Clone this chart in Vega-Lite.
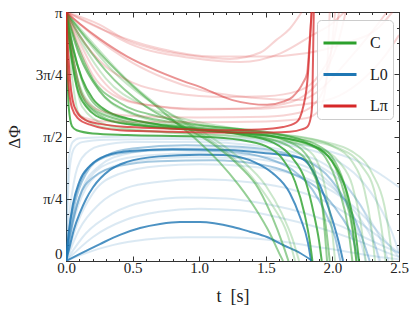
{
"$schema": "https://vega.github.io/schema/vega-lite/v6.json",
"width": 333, "height": 249,
"autosize": {"type": "none"},
"padding": {"left": 66, "top": 12, "right": 16, "bottom": 51},
"background": "white",
"datasets": {
"L0_faint": [
{"run":"B5","t":0,"dphi":0},{"run":"B5","t":0.01,"dphi":0.6},{"run":"B5","t":0.03,"dphi":1.2},{"run":"B5","t":0.06,"dphi":1.42},{"run":"B5","t":0.12,"dphi":1.5},{"run":"B5","t":0.3,"dphi":1.53},{"run":"B5","t":0.8,"dphi":1.54},{"run":"B5","t":1.3,"dphi":1.52},{"run":"B5","t":1.7,"dphi":1.45},{"run":"B5","t":2.0,"dphi":1.3},{"run":"B5","t":2.2,"dphi":1.05},{"run":"B5","t":2.35,"dphi":0.7},{"run":"B5","t":2.45,"dphi":0.35},{"run":"B5","t":2.5,"dphi":0.1},
{"run":"B6","t":0,"dphi":0},{"run":"B6","t":0.02,"dphi":0.5},{"run":"B6","t":0.06,"dphi":1.0},{"run":"B6","t":0.12,"dphi":1.3},{"run":"B6","t":0.25,"dphi":1.45},{"run":"B6","t":0.5,"dphi":1.5},{"run":"B6","t":1.0,"dphi":1.5},{"run":"B6","t":1.4,"dphi":1.46},{"run":"B6","t":1.75,"dphi":1.35},{"run":"B6","t":2.0,"dphi":1.15},{"run":"B6","t":2.15,"dphi":0.85},{"run":"B6","t":2.28,"dphi":0.45},{"run":"B6","t":2.35,"dphi":0},
{"run":"B7","t":0,"dphi":0},{"run":"B7","t":0.05,"dphi":0.5},{"run":"B7","t":0.12,"dphi":0.9},{"run":"B7","t":0.25,"dphi":1.2},{"run":"B7","t":0.45,"dphi":1.35},{"run":"B7","t":0.8,"dphi":1.42},{"run":"B7","t":1.2,"dphi":1.42},{"run":"B7","t":1.6,"dphi":1.36},{"run":"B7","t":1.9,"dphi":1.2},{"run":"B7","t":2.1,"dphi":0.95},{"run":"B7","t":2.25,"dphi":0.6},{"run":"B7","t":2.38,"dphi":0.2},{"run":"B7","t":2.42,"dphi":0},
{"run":"B8","t":0,"dphi":0},{"run":"B8","t":0.05,"dphi":0.45},{"run":"B8","t":0.15,"dphi":0.92},{"run":"B8","t":0.3,"dphi":1.15},{"run":"B8","t":0.55,"dphi":1.27},{"run":"B8","t":0.9,"dphi":1.31},{"run":"B8","t":1.3,"dphi":1.3},{"run":"B8","t":1.6,"dphi":1.24},{"run":"B8","t":1.85,"dphi":1.1},{"run":"B8","t":2.05,"dphi":0.85},{"run":"B8","t":2.2,"dphi":0.55},{"run":"B8","t":2.32,"dphi":0.2},{"run":"B8","t":2.36,"dphi":0},
{"run":"B9","t":0,"dphi":0},{"run":"B9","t":0.08,"dphi":0.45},{"run":"B9","t":0.2,"dphi":0.85},{"run":"B9","t":0.4,"dphi":1.1},{"run":"B9","t":0.7,"dphi":1.2},{"run":"B9","t":1.0,"dphi":1.22},{"run":"B9","t":1.4,"dphi":1.19},{"run":"B9","t":1.7,"dphi":1.1},{"run":"B9","t":1.95,"dphi":0.93},{"run":"B9","t":2.15,"dphi":0.7},{"run":"B9","t":2.3,"dphi":0.45},{"run":"B9","t":2.45,"dphi":0.15},{"run":"B9","t":2.5,"dphi":0.05},
{"run":"B10","t":0,"dphi":0},{"run":"B10","t":0.1,"dphi":0.4},{"run":"B10","t":0.25,"dphi":0.72},{"run":"B10","t":0.45,"dphi":0.92},{"run":"B10","t":0.7,"dphi":1.0},{"run":"B10","t":1.0,"dphi":1.03},{"run":"B10","t":1.4,"dphi":0.99},{"run":"B10","t":1.7,"dphi":0.9},{"run":"B10","t":1.95,"dphi":0.75},{"run":"B10","t":2.15,"dphi":0.55},{"run":"B10","t":2.35,"dphi":0.3},{"run":"B10","t":2.5,"dphi":0.1},
{"run":"B11","t":0,"dphi":0},{"run":"B11","t":0.15,"dphi":0.35},{"run":"B11","t":0.35,"dphi":0.6},{"run":"B11","t":0.6,"dphi":0.75},{"run":"B11","t":0.9,"dphi":0.8},{"run":"B11","t":1.2,"dphi":0.79},{"run":"B11","t":1.5,"dphi":0.72},{"run":"B11","t":1.8,"dphi":0.6},{"run":"B11","t":2.05,"dphi":0.45},{"run":"B11","t":2.3,"dphi":0.25},{"run":"B11","t":2.5,"dphi":0.1},
{"run":"B12","t":0,"dphi":0},{"run":"B12","t":0.15,"dphi":0.1},{"run":"B12","t":0.35,"dphi":0.2},{"run":"B12","t":0.6,"dphi":0.27},{"run":"B12","t":0.9,"dphi":0.3},{"run":"B12","t":1.2,"dphi":0.3},{"run":"B12","t":1.5,"dphi":0.27},{"run":"B12","t":1.8,"dphi":0.2},{"run":"B12","t":2.1,"dphi":0.12},{"run":"B12","t":2.4,"dphi":0.04},{"run":"B12","t":2.5,"dphi":0.02},
{"run":"B13","t":0,"dphi":0},{"run":"B13","t":0.2,"dphi":0.3},{"run":"B13","t":0.45,"dphi":0.52},{"run":"B13","t":0.7,"dphi":0.62},{"run":"B13","t":1.0,"dphi":0.66},{"run":"B13","t":1.3,"dphi":0.64},{"run":"B13","t":1.6,"dphi":0.55},{"run":"B13","t":1.9,"dphi":0.42},{"run":"B13","t":2.2,"dphi":0.25},{"run":"B13","t":2.45,"dphi":0.08},{"run":"B13","t":2.5,"dphi":0.05},
{"run":"B14","t":0,"dphi":0},{"run":"B14","t":0.01,"dphi":0.9},{"run":"B14","t":0.025,"dphi":1.35},{"run":"B14","t":0.05,"dphi":1.5},{"run":"B14","t":0.1,"dphi":1.55},{"run":"B14","t":0.5,"dphi":1.57},{"run":"B14","t":1.0,"dphi":1.56},{"run":"B14","t":1.5,"dphi":1.52},{"run":"B14","t":1.9,"dphi":1.42},{"run":"B14","t":2.2,"dphi":1.25},{"run":"B14","t":2.4,"dphi":1.05},{"run":"B14","t":2.5,"dphi":0.93},
{"run":"B15","t":0,"dphi":0},{"run":"B15","t":0.03,"dphi":0.35},{"run":"B15","t":0.08,"dphi":0.7},{"run":"B15","t":0.18,"dphi":1.05},{"run":"B15","t":0.35,"dphi":1.25},{"run":"B15","t":0.6,"dphi":1.33},{"run":"B15","t":1.0,"dphi":1.36},{"run":"B15","t":1.4,"dphi":1.33},{"run":"B15","t":1.7,"dphi":1.25},{"run":"B15","t":1.9,"dphi":1.1},{"run":"B15","t":2.05,"dphi":0.85},{"run":"B15","t":2.15,"dphi":0.55},{"run":"B15","t":2.22,"dphi":0.2},{"run":"B15","t":2.25,"dphi":0}
],
"L0_mid": [
{"run":"B4","t":0,"dphi":0},{"run":"B4","t":0.03,"dphi":0.4},{"run":"B4","t":0.07,"dphi":0.75},{"run":"B4","t":0.15,"dphi":1.1},{"run":"B4","t":0.3,"dphi":1.33},{"run":"B4","t":0.5,"dphi":1.42},{"run":"B4","t":0.9,"dphi":1.46},{"run":"B4","t":1.3,"dphi":1.44},{"run":"B4","t":1.6,"dphi":1.38},{"run":"B4","t":1.8,"dphi":1.27},{"run":"B4","t":1.95,"dphi":1.1},{"run":"B4","t":2.1,"dphi":0.75},{"run":"B4","t":2.2,"dphi":0.4},{"run":"B4","t":2.28,"dphi":0},
{"run":"B16","t":0,"dphi":0},{"run":"B16","t":0.02,"dphi":0.35},{"run":"B16","t":0.06,"dphi":0.75},{"run":"B16","t":0.12,"dphi":1.05},{"run":"B16","t":0.25,"dphi":1.28},{"run":"B16","t":0.45,"dphi":1.37},{"run":"B16","t":0.8,"dphi":1.4},{"run":"B16","t":1.2,"dphi":1.38},{"run":"B16","t":1.5,"dphi":1.3},{"run":"B16","t":1.7,"dphi":1.15},{"run":"B16","t":1.85,"dphi":0.9},{"run":"B16","t":1.95,"dphi":0.6},{"run":"B16","t":2.02,"dphi":0.3},{"run":"B16","t":2.06,"dphi":0},
{"run":"B17","t":0,"dphi":0},{"run":"B17","t":0.04,"dphi":0.4},{"run":"B17","t":0.1,"dphi":0.8},{"run":"B17","t":0.2,"dphi":1.05},{"run":"B17","t":0.4,"dphi":1.2},{"run":"B17","t":0.7,"dphi":1.26},{"run":"B17","t":1.1,"dphi":1.27},{"run":"B17","t":1.45,"dphi":1.22},{"run":"B17","t":1.7,"dphi":1.1},{"run":"B17","t":1.9,"dphi":0.9},{"run":"B17","t":2.05,"dphi":0.6},{"run":"B17","t":2.15,"dphi":0.3},{"run":"B17","t":2.2,"dphi":0}
],
"L0_bold": [
{"run":"B1","t":0,"dphi":0},{"run":"B1","t":0.105,"dphi":0.09},{"run":"B1","t":0.255,"dphi":0.214},{"run":"B1","t":0.405,"dphi":0.33},{"run":"B1","t":0.556,"dphi":0.416},{"run":"B1","t":0.706,"dphi":0.467},{"run":"B1","t":0.856,"dphi":0.492},{"run":"B1","t":1.006,"dphi":0.492},{"run":"B1","t":1.254,"dphi":0.429},{"run":"B1","t":1.38,"dphi":0.37},{"run":"B1","t":1.509,"dphi":0.303},{"run":"B1","t":1.629,"dphi":0.202},{"run":"B1","t":1.757,"dphi":0.101},{"run":"B1","t":1.85,"dphi":0},
{"run":"B2","t":0,"dphi":0},{"run":"B2","t":0.03,"dphi":0.2},{"run":"B2","t":0.06,"dphi":0.4},{"run":"B2","t":0.105,"dphi":0.61},{"run":"B2","t":0.15,"dphi":0.78},{"run":"B2","t":0.203,"dphi":0.93},{"run":"B2","t":0.33,"dphi":1.15},{"run":"B2","t":0.458,"dphi":1.25},{"run":"B2","t":0.7,"dphi":1.32},{"run":"B2","t":1.0,"dphi":1.34},{"run":"B2","t":1.18,"dphi":1.337},{"run":"B2","t":1.43,"dphi":1.236},{"run":"B2","t":1.55,"dphi":1.11},{"run":"B2","t":1.68,"dphi":0.858},{"run":"B2","t":1.757,"dphi":0.555},{"run":"B2","t":1.817,"dphi":0.227},{"run":"B2","t":1.84,"dphi":0},
{"run":"B3","t":0,"dphi":0},{"run":"B3","t":0.02,"dphi":0.35},{"run":"B3","t":0.05,"dphi":0.7},{"run":"B3","t":0.1,"dphi":1.0},{"run":"B3","t":0.18,"dphi":1.2},{"run":"B3","t":0.3,"dphi":1.33},{"run":"B3","t":0.5,"dphi":1.39},{"run":"B3","t":0.8,"dphi":1.41},{"run":"B3","t":1.2,"dphi":1.4},{"run":"B3","t":1.5,"dphi":1.36},{"run":"B3","t":1.76,"dphi":1.3},{"run":"B3","t":1.83,"dphi":1.2},{"run":"B3","t":1.88,"dphi":1.05},{"run":"B3","t":2.0,"dphi":0.52},{"run":"B3","t":2.05,"dphi":0.22},{"run":"B3","t":2.08,"dphi":0}
],
"C_faint": [
{"run":"G8","t":0,"dphi":3.1416},{"run":"G8","t":0.15,"dphi":2.8},{"run":"G8","t":0.35,"dphi":2.4},{"run":"G8","t":0.6,"dphi":2.05},{"run":"G8","t":0.9,"dphi":1.75},{"run":"G8","t":1.1,"dphi":1.55},{"run":"G8","t":1.3,"dphi":1.3},{"run":"G8","t":1.5,"dphi":0.95},{"run":"G8","t":1.62,"dphi":0.6},{"run":"G8","t":1.7,"dphi":0.28},{"run":"G8","t":1.75,"dphi":0},
{"run":"G9","t":0,"dphi":3.1416},{"run":"G9","t":0.05,"dphi":2.5},{"run":"G9","t":0.12,"dphi":1.95},{"run":"G9","t":0.3,"dphi":1.72},{"run":"G9","t":0.7,"dphi":1.63},{"run":"G9","t":1.2,"dphi":1.58},{"run":"G9","t":1.6,"dphi":1.52},{"run":"G9","t":1.9,"dphi":1.42},{"run":"G9","t":2.05,"dphi":1.25},{"run":"G9","t":2.15,"dphi":0.95},{"run":"G9","t":2.21,"dphi":0.5},{"run":"G9","t":2.25,"dphi":0},
{"run":"G10","t":0,"dphi":3.1416},{"run":"G10","t":0.1,"dphi":2.6},{"run":"G10","t":0.25,"dphi":2.15},{"run":"G10","t":0.5,"dphi":1.85},{"run":"G10","t":0.9,"dphi":1.7},{"run":"G10","t":1.4,"dphi":1.62},{"run":"G10","t":1.8,"dphi":1.55},{"run":"G10","t":2.0,"dphi":1.45},{"run":"G10","t":2.15,"dphi":1.25},{"run":"G10","t":2.24,"dphi":0.9},{"run":"G10","t":2.29,"dphi":0.45},{"run":"G10","t":2.32,"dphi":0},
{"run":"G11","t":0,"dphi":3.1416},{"run":"G11","t":0.04,"dphi":2.4},{"run":"G11","t":0.1,"dphi":1.85},{"run":"G11","t":0.3,"dphi":1.68},{"run":"G11","t":0.8,"dphi":1.62},{"run":"G11","t":1.3,"dphi":1.58},{"run":"G11","t":1.8,"dphi":1.52},{"run":"G11","t":2.05,"dphi":1.42},{"run":"G11","t":2.22,"dphi":1.2},{"run":"G11","t":2.32,"dphi":0.85},{"run":"G11","t":2.37,"dphi":0.4},{"run":"G11","t":2.4,"dphi":0},
{"run":"G12","t":0,"dphi":3.1416},{"run":"G12","t":0.12,"dphi":2.75},{"run":"G12","t":0.3,"dphi":2.3},{"run":"G12","t":0.6,"dphi":1.95},{"run":"G12","t":1.0,"dphi":1.75},{"run":"G12","t":1.5,"dphi":1.62},{"run":"G12","t":1.9,"dphi":1.52},{"run":"G12","t":2.15,"dphi":1.38},{"run":"G12","t":2.3,"dphi":1.1},{"run":"G12","t":2.39,"dphi":0.7},{"run":"G12","t":2.43,"dphi":0.3},{"run":"G12","t":2.45,"dphi":0},
{"run":"G13","t":0,"dphi":3.1416},{"run":"G13","t":0.2,"dphi":2.75},{"run":"G13","t":0.45,"dphi":2.3},{"run":"G13","t":0.7,"dphi":1.95},{"run":"G13","t":1.0,"dphi":1.62},{"run":"G13","t":1.2,"dphi":1.38},{"run":"G13","t":1.4,"dphi":1.05},{"run":"G13","t":1.55,"dphi":0.7},{"run":"G13","t":1.66,"dphi":0.35},{"run":"G13","t":1.72,"dphi":0},
{"run":"G14","t":0,"dphi":3.1416},{"run":"G14","t":0.06,"dphi":2.5},{"run":"G14","t":0.15,"dphi":2.05},{"run":"G14","t":0.35,"dphi":1.82},{"run":"G14","t":0.8,"dphi":1.7},{"run":"G14","t":1.3,"dphi":1.63},{"run":"G14","t":1.6,"dphi":1.55},{"run":"G14","t":1.8,"dphi":1.42},{"run":"G14","t":1.9,"dphi":1.2},{"run":"G14","t":1.96,"dphi":0.8},{"run":"G14","t":2.0,"dphi":0.35},{"run":"G14","t":2.02,"dphi":0}
],
"C_mid": [
{"run":"G4","t":0,"dphi":3.1416},{"run":"G4","t":0.1,"dphi":2.92},{"run":"G4","t":0.2,"dphi":2.72},{"run":"G4","t":0.46,"dphi":2.27},{"run":"G4","t":0.75,"dphi":1.85},{"run":"G4","t":0.98,"dphi":1.53},{"run":"G4","t":1.15,"dphi":1.25},{"run":"G4","t":1.3,"dphi":0.95},{"run":"G4","t":1.43,"dphi":0.64},{"run":"G4","t":1.53,"dphi":0.35},{"run":"G4","t":1.6,"dphi":0.1},{"run":"G4","t":1.63,"dphi":0},
{"run":"G5","t":0,"dphi":3.1416},{"run":"G5","t":0.1,"dphi":2.85},{"run":"G5","t":0.3,"dphi":2.4},{"run":"G5","t":0.6,"dphi":1.95},{"run":"G5","t":0.9,"dphi":1.68},{"run":"G5","t":1.1,"dphi":1.48},{"run":"G5","t":1.3,"dphi":1.2},{"run":"G5","t":1.45,"dphi":0.9},{"run":"G5","t":1.55,"dphi":0.55},{"run":"G5","t":1.63,"dphi":0.2},{"run":"G5","t":1.67,"dphi":0},
{"run":"G6","t":0,"dphi":3.1416},{"run":"G6","t":0.05,"dphi":2.6},{"run":"G6","t":0.1,"dphi":2.2},{"run":"G6","t":0.2,"dphi":1.92},{"run":"G6","t":0.4,"dphi":1.78},{"run":"G6","t":0.8,"dphi":1.68},{"run":"G6","t":1.2,"dphi":1.62},{"run":"G6","t":1.5,"dphi":1.55},{"run":"G6","t":1.7,"dphi":1.42},{"run":"G6","t":1.83,"dphi":1.2},{"run":"G6","t":1.9,"dphi":0.9},{"run":"G6","t":1.95,"dphi":0.45},{"run":"G6","t":1.98,"dphi":0},
{"run":"G7","t":0,"dphi":3.1416},{"run":"G7","t":0.08,"dphi":2.75},{"run":"G7","t":0.2,"dphi":2.3},{"run":"G7","t":0.4,"dphi":2.0},{"run":"G7","t":0.7,"dphi":1.82},{"run":"G7","t":1.0,"dphi":1.72},{"run":"G7","t":1.4,"dphi":1.64},{"run":"G7","t":1.7,"dphi":1.56},{"run":"G7","t":1.9,"dphi":1.45},{"run":"G7","t":2.02,"dphi":1.25},{"run":"G7","t":2.1,"dphi":0.9},{"run":"G7","t":2.15,"dphi":0.45},{"run":"G7","t":2.18,"dphi":0},
{"run":"G15","t":0,"dphi":3.1416},{"run":"G15","t":0.06,"dphi":2.65},{"run":"G15","t":0.15,"dphi":2.15},{"run":"G15","t":0.3,"dphi":1.88},{"run":"G15","t":0.6,"dphi":1.75},{"run":"G15","t":1.0,"dphi":1.68},{"run":"G15","t":1.4,"dphi":1.62},{"run":"G15","t":1.65,"dphi":1.52},{"run":"G15","t":1.8,"dphi":1.35},{"run":"G15","t":1.88,"dphi":1.05},{"run":"G15","t":1.93,"dphi":0.6},{"run":"G15","t":1.96,"dphi":0},
{"run":"G16","t":0,"dphi":3.1416},{"run":"G16","t":0.04,"dphi":2.6},{"run":"G16","t":0.1,"dphi":2.15},{"run":"G16","t":0.2,"dphi":1.9},{"run":"G16","t":0.4,"dphi":1.75},{"run":"G16","t":0.8,"dphi":1.68},{"run":"G16","t":1.2,"dphi":1.63},{"run":"G16","t":1.6,"dphi":1.56},{"run":"G16","t":1.85,"dphi":1.45},{"run":"G16","t":2.0,"dphi":1.25},{"run":"G16","t":2.09,"dphi":0.85},{"run":"G16","t":2.15,"dphi":0.4},{"run":"G16","t":2.18,"dphi":0},
{"run":"G17","t":0,"dphi":3.1416},{"run":"G17","t":0.1,"dphi":2.6},{"run":"G17","t":0.25,"dphi":2.15},{"run":"G17","t":0.45,"dphi":1.9},{"run":"G17","t":0.8,"dphi":1.75},{"run":"G17","t":1.2,"dphi":1.68},{"run":"G17","t":1.6,"dphi":1.6},{"run":"G17","t":1.8,"dphi":1.5},{"run":"G17","t":1.95,"dphi":1.3},{"run":"G17","t":2.05,"dphi":0.9},{"run":"G17","t":2.12,"dphi":0.4},{"run":"G17","t":2.15,"dphi":0}
],
"C_bold": [
{"run":"G1","t":0,"dphi":3.1416},{"run":"G1","t":0.008,"dphi":2.55},{"run":"G1","t":0.02,"dphi":1.95},{"run":"G1","t":0.045,"dphi":1.7},{"run":"G1","t":0.08,"dphi":1.65},{"run":"G1","t":0.2,"dphi":1.61},{"run":"G1","t":0.46,"dphi":1.59},{"run":"G1","t":1.0,"dphi":1.57},{"run":"G1","t":1.3,"dphi":1.53},{"run":"G1","t":1.5,"dphi":1.45},{"run":"G1","t":1.62,"dphi":1.3},{"run":"G1","t":1.72,"dphi":1.0},{"run":"G1","t":1.79,"dphi":0.6},{"run":"G1","t":1.83,"dphi":0.25},{"run":"G1","t":1.85,"dphi":0},
{"run":"G2","t":0,"dphi":3.1416},{"run":"G2","t":0.05,"dphi":2.7},{"run":"G2","t":0.12,"dphi":2.3},{"run":"G2","t":0.2,"dphi":2.05},{"run":"G2","t":0.3,"dphi":1.9},{"run":"G2","t":0.46,"dphi":1.8},{"run":"G2","t":0.7,"dphi":1.72},{"run":"G2","t":1.0,"dphi":1.66},{"run":"G2","t":1.3,"dphi":1.6},{"run":"G2","t":1.56,"dphi":1.49},{"run":"G2","t":1.7,"dphi":1.3},{"run":"G2","t":1.8,"dphi":1.0},{"run":"G2","t":1.86,"dphi":0.6},{"run":"G2","t":1.9,"dphi":0.25},{"run":"G2","t":1.92,"dphi":0},
{"run":"G3","t":0,"dphi":3.1416},{"run":"G3","t":0.03,"dphi":2.7},{"run":"G3","t":0.08,"dphi":2.2},{"run":"G3","t":0.15,"dphi":1.95},{"run":"G3","t":0.3,"dphi":1.78},{"run":"G3","t":0.6,"dphi":1.7},{"run":"G3","t":1.0,"dphi":1.65},{"run":"G3","t":1.4,"dphi":1.6},{"run":"G3","t":1.7,"dphi":1.53},{"run":"G3","t":1.9,"dphi":1.42},{"run":"G3","t":2.02,"dphi":1.2},{"run":"G3","t":2.12,"dphi":0.8},{"run":"G3","t":2.17,"dphi":0.4},{"run":"G3","t":2.2,"dphi":0}
],
"Lpi_faint": [
{"run":"F1","t":0,"dphi":3.1416},{"run":"F1","t":0.255,"dphi":2.98},{"run":"F1","t":0.46,"dphi":2.78},{"run":"F1","t":0.7,"dphi":2.66},{"run":"F1","t":0.95,"dphi":2.59},{"run":"F1","t":1.23,"dphi":2.55},{"run":"F1","t":1.46,"dphi":2.63},{"run":"F1","t":1.58,"dphi":2.79},{"run":"F1","t":1.68,"dphi":2.93},{"run":"F1","t":1.77,"dphi":3.1416},
{"run":"F2","t":0,"dphi":3.1416},{"run":"F2","t":0.255,"dphi":2.94},{"run":"F2","t":0.48,"dphi":2.74},{"run":"F2","t":0.95,"dphi":2.56},{"run":"F2","t":1.31,"dphi":2.51},{"run":"F2","t":1.61,"dphi":2.62},{"run":"F2","t":1.85,"dphi":2.85},{"run":"F2","t":2.0,"dphi":3.0},{"run":"F2","t":2.09,"dphi":3.1416},
{"run":"F3","t":0,"dphi":3.1416},{"run":"F3","t":0.2,"dphi":2.85},{"run":"F3","t":0.5,"dphi":2.5},{"run":"F3","t":0.75,"dphi":2.3},{"run":"F3","t":1.0,"dphi":2.16},{"run":"F3","t":1.4,"dphi":2.06},{"run":"F3","t":1.76,"dphi":2.03},{"run":"F3","t":1.9,"dphi":2.15},{"run":"F3","t":2.1,"dphi":2.5},{"run":"F3","t":2.3,"dphi":2.9},{"run":"F3","t":2.41,"dphi":3.1416},
{"run":"F4","t":0,"dphi":3.1416},{"run":"F4","t":0.05,"dphi":2.6},{"run":"F4","t":0.12,"dphi":2.1},{"run":"F4","t":0.25,"dphi":1.9},{"run":"F4","t":0.5,"dphi":1.83},{"run":"F4","t":1.0,"dphi":1.81},{"run":"F4","t":1.5,"dphi":1.82},{"run":"F4","t":1.75,"dphi":1.87},{"run":"F4","t":1.9,"dphi":2.05},{"run":"F4","t":1.98,"dphi":2.5},{"run":"F4","t":2.02,"dphi":3.1416},
{"run":"F5","t":0,"dphi":3.1416},{"run":"F5","t":0.1,"dphi":2.7},{"run":"F5","t":0.2,"dphi":2.35},{"run":"F5","t":0.35,"dphi":2.1},{"run":"F5","t":0.6,"dphi":1.97},{"run":"F5","t":1.0,"dphi":1.92},{"run":"F5","t":1.4,"dphi":1.92},{"run":"F5","t":1.7,"dphi":1.96},{"run":"F5","t":2.0,"dphi":2.05},{"run":"F5","t":2.2,"dphi":2.25},{"run":"F5","t":2.4,"dphi":2.6},{"run":"F5","t":2.5,"dphi":2.85},
{"run":"F6","t":0,"dphi":3.1416},{"run":"F6","t":0.2,"dphi":2.45},{"run":"F6","t":0.46,"dphi":2.03},{"run":"F6","t":0.7,"dphi":1.95},{"run":"F6","t":1.0,"dphi":1.91},{"run":"F6","t":1.3,"dphi":1.92},{"run":"F6","t":1.6,"dphi":1.97},{"run":"F6","t":1.8,"dphi":2.1},{"run":"F6","t":1.95,"dphi":2.4},{"run":"F6","t":2.05,"dphi":2.8},{"run":"F6","t":2.1,"dphi":3.1416},
{"run":"F7","t":0,"dphi":3.1416},{"run":"F7","t":0.02,"dphi":2.5},{"run":"F7","t":0.05,"dphi":2.0},{"run":"F7","t":0.1,"dphi":1.83},{"run":"F7","t":0.3,"dphi":1.76},{"run":"F7","t":1.0,"dphi":1.75},{"run":"F7","t":1.5,"dphi":1.76},{"run":"F7","t":1.8,"dphi":1.8},{"run":"F7","t":1.9,"dphi":1.9},{"run":"F7","t":1.95,"dphi":2.2},{"run":"F7","t":1.98,"dphi":3.1416},
{"run":"F8","t":0,"dphi":3.1416},{"run":"F8","t":0.1,"dphi":2.85},{"run":"F8","t":0.3,"dphi":2.45},{"run":"F8","t":0.5,"dphi":2.25},{"run":"F8","t":0.8,"dphi":2.12},{"run":"F8","t":1.2,"dphi":2.07},{"run":"F8","t":1.5,"dphi":2.08},{"run":"F8","t":1.75,"dphi":2.15},{"run":"F8","t":1.9,"dphi":2.35},{"run":"F8","t":2.0,"dphi":2.7},{"run":"F8","t":2.05,"dphi":3.1416},
{"run":"F9","t":0,"dphi":3.1416},{"run":"F9","t":0.3,"dphi":2.9},{"run":"F9","t":0.7,"dphi":2.68},{"run":"F9","t":1.1,"dphi":2.58},{"run":"F9","t":1.5,"dphi":2.58},{"run":"F9","t":1.8,"dphi":2.62},{"run":"F9","t":2.1,"dphi":2.75},{"run":"F9","t":2.35,"dphi":2.95},{"run":"F9","t":2.45,"dphi":3.1416}
],
"Lpi_mid": [
{"run":"R3","t":0,"dphi":3.1416},{"run":"R3","t":0.105,"dphi":2.99},{"run":"R3","t":0.255,"dphi":2.8},{"run":"R3","t":0.46,"dphi":2.58},{"run":"R3","t":0.63,"dphi":2.44},{"run":"R3","t":0.88,"dphi":2.27},{"run":"R3","t":1.0,"dphi":2.2},{"run":"R3","t":1.25,"dphi":2.03},{"run":"R3","t":1.51,"dphi":1.97},{"run":"R3","t":1.63,"dphi":2.01},{"run":"R3","t":1.7,"dphi":2.07},{"run":"R3","t":1.78,"dphi":2.25},{"run":"R3","t":1.81,"dphi":2.37},{"run":"R3","t":1.83,"dphi":2.79},{"run":"R3","t":1.845,"dphi":3.1416}
],
"Lpi_bold": [
{"run":"R1","t":0,"dphi":3.1416},{"run":"R1","t":0.015,"dphi":2.66},{"run":"R1","t":0.03,"dphi":2.28},{"run":"R1","t":0.05,"dphi":2.03},{"run":"R1","t":0.083,"dphi":1.88},{"run":"R1","t":0.143,"dphi":1.78},{"run":"R1","t":0.255,"dphi":1.73},{"run":"R1","t":0.48,"dphi":1.69},{"run":"R1","t":0.8,"dphi":1.67},{"run":"R1","t":1.2,"dphi":1.65},{"run":"R1","t":1.45,"dphi":1.66},{"run":"R1","t":1.63,"dphi":1.69},{"run":"R1","t":1.73,"dphi":1.75},{"run":"R1","t":1.78,"dphi":1.94},{"run":"R1","t":1.817,"dphi":2.37},{"run":"R1","t":1.832,"dphi":2.79},{"run":"R1","t":1.843,"dphi":3.1416},
{"run":"R2","t":0,"dphi":3.1416},{"run":"R2","t":0.0075,"dphi":2.54},{"run":"R2","t":0.0225,"dphi":2.16},{"run":"R2","t":0.045,"dphi":1.93},{"run":"R2","t":0.09,"dphi":1.8},{"run":"R2","t":0.18,"dphi":1.72},{"run":"R2","t":0.4,"dphi":1.65},{"run":"R2","t":0.8,"dphi":1.63},{"run":"R2","t":1.2,"dphi":1.62},{"run":"R2","t":1.55,"dphi":1.62},{"run":"R2","t":1.68,"dphi":1.63},{"run":"R2","t":1.77,"dphi":1.66},{"run":"R2","t":1.81,"dphi":1.69},{"run":"R2","t":1.835,"dphi":1.79},{"run":"R2","t":1.847,"dphi":1.94},{"run":"R2","t":1.854,"dphi":2.5},{"run":"R2","t":1.86,"dphi":3.1416}
]
},
"layer": [
{
"data": {"name": "L0_faint"},
"mark": {"type": "line", "interpolate": "monotone", "clip": true, "strokeWidth": 2, "opacity": 0.16},
"encoding": {
"x": {"field": "t", "type": "quantitative", "scale": {"domain": [0, 2.5], "nice": false, "zero": false},
 "axis": {"orient": "bottom", "values": [0, 0.5, 1, 1.5, 2, 2.5], "format": ".1f", "tickSize": -5, "labelPadding": 4, "labelFlush": false, "labelOverlap": false, "title": "t\u2002[s]", "titleX": 166.5, "titleY": 35, "titleBaseline": "middle", "titleFontSize": 18}},
"y": {"field": "dphi", "type": "quantitative", "scale": {"domain": [0, 3.14159265], "nice": false, "zero": false},
 "axis": {"orient": "left", "values": [0, 0.785398, 1.570796, 2.356194, 3.141592], "labelExpr": "datum.value < 0.3 ? '0' : datum.value < 1 ? 'π/4' : datum.value < 2 ? 'π/2' : datum.value < 3 ? '3π/4' : 'π'", "labelBaseline": {"condition": {"test": "datum.value < 0.3", "value": "bottom"}, "value": "middle"}, "tickSize": -5, "labelPadding": 9, "labelFlush": false, "labelOverlap": false, "title": "ΔΦ", "titleX": -52, "titleY": 124.5, "titleAngle": -90, "titleBaseline": "middle", "titleFontSize": 17}},
"detail": {"field": "run", "type": "nominal"},
"color": {"datum": "L0", "type": "nominal", "scale": {"domain": ["C", "L0", "Lπ"], "range": ["#2ca02c", "#1f77b4", "#d62728"]}, "legend": {"title": null, "symbolOpacity": 1}}
}
},
{
"data": {"name": "L0_mid"},
"mark": {"type": "line", "interpolate": "monotone", "clip": true, "strokeWidth": 2, "opacity": 0.4},
"encoding": {
"x": {"field": "t", "type": "quantitative", "scale": {"domain": [0, 2.5], "nice": false, "zero": false},
 "axis": {"orient": "top", "values": [0, 0.5, 1, 1.5, 2, 2.5], "tickSize": -5, "labels": false, "title": null}},
"y": {"field": "dphi", "type": "quantitative", "scale": {"domain": [0, 3.14159265], "nice": false, "zero": false},
 "axis": {"orient": "right", "values": [0, 0.785398, 1.570796, 2.356194, 3.141592], "tickSize": -5, "labels": false, "title": null}},
"detail": {"field": "run", "type": "nominal"},
"color": {"datum": "L0", "type": "nominal", "legend": {"title": null, "symbolOpacity": 1}}
}
},
{
"data": {"name": "L0_bold"},
"mark": {"type": "line", "interpolate": "monotone", "clip": true, "strokeWidth": 2, "opacity": 0.8},
"encoding": {
"x": {"field": "t", "type": "quantitative", "scale": {"domain": [0, 2.5], "nice": false, "zero": false},
 "axis": {"orient": "bottom", "values": [0,0.1,0.2,0.3,0.4,0.5,0.6,0.7,0.8,0.9,1,1.1,1.2,1.3,1.4,1.5,1.6,1.7,1.8,1.9,2,2.1,2.2,2.3,2.4,2.5], "tickSize": -2.5, "labels": false, "title": null}},
"y": {"field": "dphi", "type": "quantitative", "scale": {"domain": [0, 3.14159265], "nice": false, "zero": false},
 "axis": {"orient": "left", "values": [0,0.19635,0.392699,0.589049,0.785398,0.981748,1.178097,1.374447,1.570796,1.767146,1.963495,2.159845,2.356194,2.552544,2.748894,2.945243,3.141592], "tickSize": -2.5, "labels": false, "title": null}},
"detail": {"field": "run", "type": "nominal"},
"color": {"datum": "L0", "type": "nominal", "legend": {"title": null, "symbolOpacity": 1}}
}
},
{
"data": {"name": "C_faint"},
"mark": {"type": "line", "interpolate": "monotone", "clip": true, "strokeWidth": 2, "opacity": 0.25},
"encoding": {
"x": {"field": "t", "type": "quantitative", "scale": {"domain": [0, 2.5], "nice": false, "zero": false},
 "axis": {"orient": "top", "values": [0,0.1,0.2,0.3,0.4,0.5,0.6,0.7,0.8,0.9,1,1.1,1.2,1.3,1.4,1.5,1.6,1.7,1.8,1.9,2,2.1,2.2,2.3,2.4,2.5], "tickSize": -2.5, "labels": false, "title": null}},
"y": {"field": "dphi", "type": "quantitative", "scale": {"domain": [0, 3.14159265], "nice": false, "zero": false},
 "axis": {"orient": "right", "values": [0,0.19635,0.392699,0.589049,0.785398,0.981748,1.178097,1.374447,1.570796,1.767146,1.963495,2.159845,2.356194,2.552544,2.748894,2.945243,3.141592], "tickSize": -2.5, "labels": false, "title": null}},
"detail": {"field": "run", "type": "nominal"},
"color": {"datum": "C", "type": "nominal", "legend": {"title": null, "symbolOpacity": 1}}
}
},
{
"data": {"name": "C_mid"},
"mark": {"type": "line", "interpolate": "monotone", "clip": true, "strokeWidth": 2, "opacity": 0.5},
"encoding": {
"x": {"field": "t", "type": "quantitative", "scale": {"domain": [0, 2.5], "nice": false, "zero": false}, "axis": null},
"y": {"field": "dphi", "type": "quantitative", "scale": {"domain": [0, 3.14159265], "nice": false, "zero": false}, "axis": null},
"detail": {"field": "run", "type": "nominal"},
"color": {"datum": "C", "type": "nominal", "legend": {"title": null, "symbolOpacity": 1}}
}
},
{
"data": {"name": "C_bold"},
"mark": {"type": "line", "interpolate": "monotone", "clip": true, "strokeWidth": 2, "opacity": 0.8},
"encoding": {
"x": {"field": "t", "type": "quantitative", "scale": {"domain": [0, 2.5], "nice": false, "zero": false}, "axis": null},
"y": {"field": "dphi", "type": "quantitative", "scale": {"domain": [0, 3.14159265], "nice": false, "zero": false}, "axis": null},
"detail": {"field": "run", "type": "nominal"},
"color": {"datum": "C", "type": "nominal", "legend": {"title": null, "symbolOpacity": 1}}
}
},
{
"data": {"name": "Lpi_faint"},
"mark": {"type": "line", "interpolate": "monotone", "clip": true, "strokeWidth": 2, "opacity": 0.2},
"encoding": {
"x": {"field": "t", "type": "quantitative", "scale": {"domain": [0, 2.5], "nice": false, "zero": false}, "axis": null},
"y": {"field": "dphi", "type": "quantitative", "scale": {"domain": [0, 3.14159265], "nice": false, "zero": false}, "axis": null},
"detail": {"field": "run", "type": "nominal"},
"color": {"datum": "Lπ", "type": "nominal", "legend": {"title": null, "symbolOpacity": 1}}
}
},
{
"data": {"name": "Lpi_mid"},
"mark": {"type": "line", "interpolate": "monotone", "clip": true, "strokeWidth": 2, "opacity": 0.5},
"encoding": {
"x": {"field": "t", "type": "quantitative", "scale": {"domain": [0, 2.5], "nice": false, "zero": false}, "axis": null},
"y": {"field": "dphi", "type": "quantitative", "scale": {"domain": [0, 3.14159265], "nice": false, "zero": false}, "axis": null},
"detail": {"field": "run", "type": "nominal"},
"color": {"datum": "Lπ", "type": "nominal", "legend": {"title": null, "symbolOpacity": 1}}
}
},
{
"data": {"name": "Lpi_bold"},
"mark": {"type": "line", "interpolate": "monotone", "clip": true, "strokeWidth": 2, "opacity": 0.75},
"encoding": {
"x": {"field": "t", "type": "quantitative", "scale": {"domain": [0, 2.5], "nice": false, "zero": false}, "axis": null},
"y": {"field": "dphi", "type": "quantitative", "scale": {"domain": [0, 3.14159265], "nice": false, "zero": false}, "axis": null},
"detail": {"field": "run", "type": "nominal"},
"color": {"datum": "Lπ", "type": "nominal", "legend": {"title": null, "symbolOpacity": 1}}
}
}
],
"resolve": {"axis": {"x": "independent", "y": "independent"}},
"config": {
"view": {"stroke": "#333333", "strokeWidth": 1},
"axis": {"domain": false, "grid": false, "labelFont": "Liberation Serif", "labelFontSize": 15, "labelColor": "#222222", "titleFont": "Liberation Serif", "titleFontWeight": "normal", "titleColor": "#222222", "tickColor": "#333333", "tickWidth": 1},
"legend": {"orient": "none", "legendX": 251, "legendY": 8, "fillColor": "rgba(255,255,255,0.85)", "strokeColor": "#cccccc", "cornerRadius": 4, "padding": 5, "rowPadding": 5.5, "symbolType": "stroke", "symbolSize": 1089, "symbolStrokeWidth": 3, "symbolOpacity": 1, "labelFont": "Liberation Serif", "labelFontSize": 16, "labelColor": "#222222", "labelOffset": 12}
}
}
